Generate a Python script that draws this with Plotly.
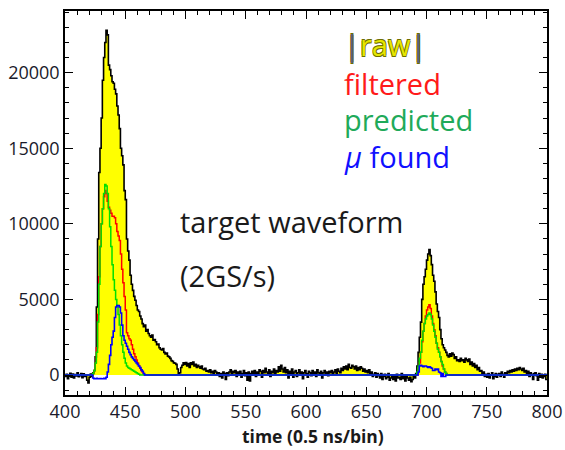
import numpy as np
import plotly.graph_objects as go

# ---------------- data ----------------
t_start = 400
t_end = 800
raw_values = [
    -100, 50, -250, -80, 120, -150, 60, -200, 30, -60, 150, -120, -40, 100, -180, 80, -90, 20, -350, -520,
    -150, 60, -100, 150, 300, 1200, 4500, 9000, 13400, 15000, 17000, 19500, 21000, 22000, 22800, 22500, 20500, 20200, 19800, 19400,
    19300, 18900, 18600, 17800, 17200, 16300, 15000, 14500, 13900, 12200, 11600, 9000, 8200, 7600, 6600, 6000, 5600, 5200, 4950, 4600,
    4300, 4200, 3900, 3700, 3400, 3200, 3300, 2900, 3000, 2750, 2600, 2500, 2650, 2300, 2350, 2200, 2000, 2050, 1800, 1700,
    1650, 1750, 1500, 1400, 1450, 1250, 1200, 1100, 950, 900, 800, 780, 700, 400, 100, 150, 500, 650, 800, 700,
    820, 600, 750, 500, 800, 700, 850, 600, 700, 500, 650, 550, 450, 600, 400, 350, 450, 250, 300, 200,
    350, 150, 250, 100, 300, 200, 50, 150, -100, 100, -200, 200, 100, -300, 150, -50, 200, 350, 100, 250,
    150, 300, -100, 200, 50, 250, -150, 100, 300, -50, 150, -350, 200, -400, 100, 250, 50, 300, -100, 200,
    100, 350, 250, -150, 300, 150, 450, 200, 100, 350, -100, 250, 150, 400, 50, 300, 200, 550, 250, 650,
    400, 200, 500, 150, 350, -200, 250, 100, 400, -150, 200, 300, -100, 150, 350, 50, 200, -250, 150, 300,
    100, -150, 250, 150, -50, 300, 100, 200, -100, 350, 150, 50, 250, -200, 150, 300, 100, 200, -50, 250,
    150, 300, 50, 200, 350, 100, 400, 250, 150, 450, 300, 550, 400, 600, 350, 700, 500, 450, 650, 550,
    400, 600, 300, 500, 350, 550, 450, 250, 400, 200, 300, 150, 350, 100, 200, -100, 50, 150, -150, 100,
    -50, -200, 100, -300, -100, 50, -250, -150, 100, -350, -200, 0, -300, -100, -400, 50, -200, -150, -300, 100,
    -250, -100, -400, 0, -200, -350, -150, -450, -300, -100, -200, 100, 600, 1500, 2500, 3500, 5000, 6000, 6500, 7000,
    7600, 8000, 8300, 7900, 7300, 6600, 6200, 5500, 4700, 4200, 3800, 3000, 2400, 2000, 1800, 1650, 1500, 1300, 1200, 1400,
    1250, 1450, 1350, 1100, 1200, 950, 1000, 900, 1100, 950, 1000, 850, 1100, 1000, 900, 1050, 700, 850, 600, 750,
    500, 650, 350, 500, 250, 300, 100, 200, -100, 50, -150, 100, -200, 0, 150, -250, -100, 100, -150, 50,
    100, -100, 200, 50, -150, 150, 100, 250, 150, 300, 200, 350, 250, 400, 300, 450, 350, 500, 400, 300,
    450, 200, 300, 100, 250, -100, 150, 50, -300, 100, 150, -50, -350, 100, -150, 50, -200, -100, 50, -300,
]

# filtered (red): nonzero stretches, given as (first bin, values)
filtered_peak1_start = 422
filtered_peak1 = [0, 100, 300, 800, 1800, 4000, 6500, 8500, 10000, 11000, 11800, 12200, 12000, 11500, 11100,
                  10900, 10700, 10500, 10500, 10400, 10000, 9500, 9200, 8900, 8000, 7000, 6100, 5200, 4300,
                  2800, 2600, 2400, 2300, 2000, 1700, 1400, 1200, 1000, 800, 600, 450, 300, 200, 100, 0]
filtered_peak2_start = 692
filtered_peak2 = [0, 300, 800, 1500, 2200, 2900, 3400, 3900, 4300, 4500, 4650, 4400, 3900, 3400, 3000, 2600,
                  2100, 1800, 1500, 1200, 900, 600, 400, 200, 100, 0]

# predicted (green)
predicted_peak1_start = 422
predicted_peak1 = [0, 100, 300, 800, 1500, 3500, 6000, 8500, 10000, 11000, 12000, 12600, 12500, 12000, 11000,
                   9800, 8500, 7300, 6300, 5600, 5000, 4600, 4000, 3300, 2600, 2000, 1500, 1100, 800, 600, 500,
                   450, 400, 350, 300, 250, 200, 150, 100, 50, 0]
predicted_peak2_start = 692
predicted_peak2 = [200, 600, 1100, 1500, 2300, 2900, 3400, 3700, 3900, 4000, 4100, 4000, 3700, 3300, 2900, 2500,
                   2100, 1700, 1500, 1200, 900, 700, 400, 200, 100, 0]

# mu found (blue)
found_peak1_start = 423
found_peak1 = [-200, -250, -250, -220, -250, -250, -230, -250, -250, -220, -250, -150, 200, 700, 1300, 2000,
               2500, 2900, 3800, 4500, 4600, 4600, 4500, 4100, 3300, 2600, 2300, 2100, 1900, 1700, 1500, 1350,
               1200, 1100, 1000, 900, 800, 700, 600, 500, 350, 250, 100, 0]
found_peak2_start = 693
found_peak2 = [200, 600, 650, 600, 550, 600, 600, 550, 500, 550, 500, 450, 300, 300, 400, 350, 400, 200, 150,
               -100, 100, -100, -100, 0]

x_ticks = [400, 450, 500, 550, 600, 650, 700, 750, 800]
y_ticks = [0, 5000, 10000, 15000, 20000]

# ---------------- build ----------------
bins = np.arange(t_start, t_end)
edges = np.append(bins, t_end)


def series(parts):
    arr = np.zeros(len(bins))
    for start, vals in parts:
        i = start - t_start
        arr[i:i + len(vals)] = vals
    return arr


def step_y(arr):
    arr = np.asarray(arr, dtype=float)
    return np.append(arr, arr[-1])


raw = np.array(raw_values, dtype=float)
filtered = series([(filtered_peak1_start, filtered_peak1), (filtered_peak2_start, filtered_peak2)])
predicted = series([(predicted_peak1_start, predicted_peak1), (predicted_peak2_start, predicted_peak2)])
found = series([(found_peak1_start, found_peak1), (found_peak2_start, found_peak2)])

fig = go.Figure()
fig.add_trace(go.Scatter(x=edges, y=step_y(raw), mode="lines", line=dict(shape="hv", color="black", width=1.6),
                         fill="tozeroy", fillcolor="#ffff00", showlegend=False, hoverinfo="skip"))
fig.add_trace(go.Scatter(x=edges, y=step_y(filtered), mode="lines", line=dict(shape="hv", color="#ff0000", width=1.5),
                         showlegend=False))
fig.add_trace(go.Scatter(x=edges, y=step_y(predicted), mode="lines", line=dict(shape="hv", color="#00e000", width=1.5),
                         showlegend=False))
fig.add_trace(go.Scatter(x=edges, y=step_y(found), mode="lines", line=dict(shape="hv", color="#0000ff", width=1.6),
                         showlegend=False))

FONT = "Open Sans"
axis_common = dict(
    showline=True, linecolor="black", linewidth=1.5, mirror="ticks",
    ticks="inside", ticklen=8, tickwidth=1.2, tickcolor="black",
    showgrid=False, zeroline=False, automargin=False,
    tickfont=dict(family=FONT, size=18, color="#1a1a2a"),
)
fig.update_xaxes(range=[t_start, t_end], tickvals=x_ticks, ticktext=[str(v) for v in x_ticks],
                 minor=dict(dtick=10, ticks="inside", ticklen=4, tickcolor="black", tickwidth=1),
                 **axis_common)
fig.update_yaxes(range=[-1323, 24080], tickvals=y_ticks, ticktext=[str(v) for v in y_ticks],
                 minor=dict(dtick=1000, ticks="inside", ticklen=4, tickcolor="black", tickwidth=1),
                 **axis_common)

# x-axis title (placed as paper annotation for exact position)
fig.add_annotation(xref="paper", yref="paper", x=0.515, y=-0.108, xanchor="center", yanchor="middle",
                   showarrow=False, text="time (0.5 ns/bin)", borderpad=0,
                   font=dict(family=FONT, size=17.5, color="#1a1a1a", weight="bold"))

ann_font = dict(family=FONT, size=29)
x0 = 0.574
outline = "#6e6e00"
fig.add_annotation(xref="paper", yref="paper", x=x0, y=0.912, xanchor="left", yanchor="middle", showarrow=False,
                   text="<span style='color:#5a5f80'>|</span>raw<span style='color:#5a5f80'>|</span>",
                   font=dict(family=FONT, size=29, color="#e6e600",
                             shadow=f"-0.6px -0.6px 0 {outline}, 0.6px -0.6px 0 {outline}, "
                                    f"-0.6px 0.6px 0 {outline}, 0.6px 0.6px 0 {outline}"))
fig.add_annotation(xref="paper", yref="paper", x=x0, y=0.812, xanchor="left", yanchor="middle", showarrow=False,
                   text="filtered", font=dict(color="#ff1a1a", **ann_font))
fig.add_annotation(xref="paper", yref="paper", x=x0, y=0.717, xanchor="left", yanchor="middle", showarrow=False,
                   text="predicted", font=dict(color="#1faa5a", **ann_font))
fig.add_annotation(xref="paper", yref="paper", x=x0, y=0.622, xanchor="left", yanchor="middle", showarrow=False,
                   text="<i>μ</i> found", font=dict(color="#1010ff", **ann_font))
fig.add_annotation(xref="paper", yref="paper", x=0.234, y=0.452, xanchor="left", yanchor="middle", showarrow=False,
                   text="target waveform", font=dict(color="#1a1a1a", **ann_font))
fig.add_annotation(xref="paper", yref="paper", x=0.234, y=0.31, xanchor="left", yanchor="middle", showarrow=False,
                   text="(2GS/s)", font=dict(color="#1a1a1a", **ann_font))

fig.update_layout(width=565, height=450, margin=dict(l=65, r=18, t=11, b=55),
                  paper_bgcolor="white", plot_bgcolor="white", showlegend=False)

fig.write_html("out.html")
